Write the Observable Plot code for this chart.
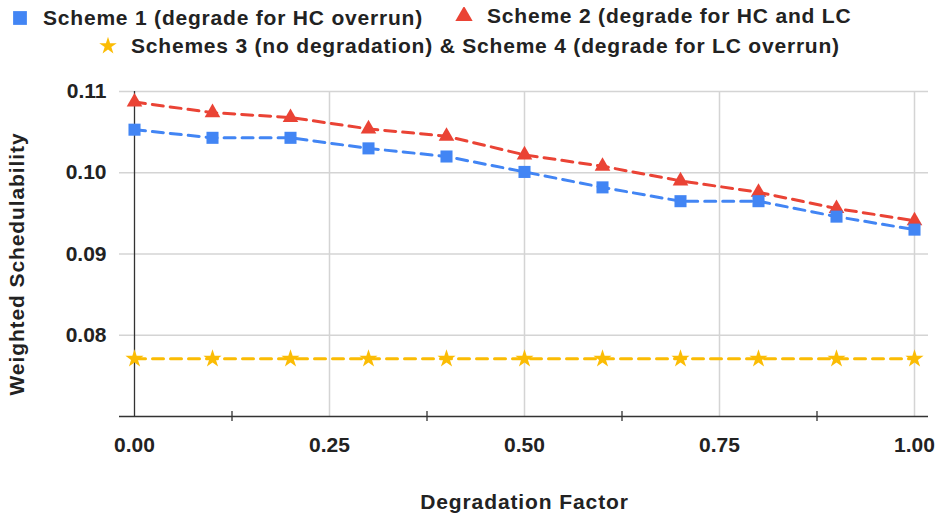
<!DOCTYPE html>
<html>
<head>
<meta charset="utf-8">
<script src="https://cdn.jsdelivr.net/npm/d3@7"></script>
<script src="https://cdn.jsdelivr.net/npm/@observablehq/plot@0.6"></script>
<style>
  html, body { margin: 0; padding: 0; background: #fff; }
  #wrap { position: relative; width: 940px; height: 521px; font-family: "Liberation Sans", Arial, sans-serif; font-weight: bold; color: #222; }
  .item { position: absolute; display: flex; align-items: center; height: 24px; font-size: 21px; white-space: nowrap; letter-spacing: 0.8px; }
  .axis-title { letter-spacing: 0.9px; }
</style>
</head>
<body>
<div id="wrap"><div id="chart"></div></div>
<script>
// ---- data ----
const factors = [0.0, 0.1, 0.2, 0.3, 0.4, 0.5, 0.6, 0.7, 0.8, 0.9, 1.0];
const scheme1 = [0.1053, 0.1043, 0.1043, 0.1030, 0.1020, 0.1001, 0.0982, 0.0965, 0.0965, 0.0946, 0.0930];
const scheme2 = [0.1087, 0.1074, 0.1068, 0.1054, 0.1045, 0.1022, 0.1008, 0.0990, 0.0976, 0.0956, 0.0941];
const scheme34 = [0.0771, 0.0771, 0.0771, 0.0771, 0.0771, 0.0771, 0.0771, 0.0771, 0.0771, 0.0771, 0.0771];
const seriesNames = [
  "Scheme 1 (degrade for HC overrun)",
  "Scheme 2 (degrade for HC and LC",
  "Schemes 3 (no degradation) & Scheme 4 (degrade for LC overrun)"
];
const seriesColors = ["#4285F4", "#EA4335", "#FBBC04"];
const seriesSymbols = ["square", "triangle", "star"];
const xTicks = [0, 0.25, 0.5, 0.75, 1.0];
const xMinorTicks = [0.125, 0.375, 0.625, 0.875];
const xGrid = [0.25, 0.5, 0.75, 1.0];
const yTicks = [0.08, 0.09, 0.10, 0.11];
const xTitle = "Degradation Factor";
const yTitle = "Weighted Schedulability";

const seriesValues = [scheme1, scheme2, scheme34];
const rows = [];
seriesValues.forEach((vals, s) => vals.forEach((v, i) => rows.push({x: factors[i], y: v, s})));
const bySeries = s => rows.filter(r => r.s === s);
const drawOrder = [2, 1, 0];

const marks = [
  Plot.ruleY(yTicks, {stroke: "#d4d4d4", strokeWidth: 1.5, insetLeft: -15, insetRight: -14}),
  Plot.ruleX(xGrid, {stroke: "#d4d4d4", strokeWidth: 1.5}),
  Plot.ruleX([0], {stroke: "#333", strokeWidth: 1.3}),
  Plot.ruleY([0.07], {stroke: "#333", strokeWidth: 1.3, insetLeft: -15, insetRight: -14}),
  Plot.tickX(xMinorTicks, {x: d => d, stroke: "#333", strokeWidth: 1.3, insetTop: 320, insetBottom: -5}),
  Plot.axisX(xTicks, {tickSize: 0, tickPadding: 21, tickFormat: d3.format(".2f"), label: null, fontSize: 21}),
  Plot.axisY(yTicks, {tickSize: 0, tickPadding: 28, tickFormat: d3.format(".2f"), label: null, fontSize: 21}),
];
for (const s of drawOrder) {
  marks.push(Plot.line(bySeries(s), {x: "x", y: "y", stroke: seriesColors[s], strokeWidth: 3, strokeDasharray: "11,7"}));
}
const symR = [6.8, 5.8, 5.7];
for (const s of drawOrder) {
  marks.push(Plot.dot(bySeries(s), {x: "x", y: "y", symbol: seriesSymbols[s], fill: seriesColors[s], r: symR[s], stroke: "none"}));
}
marks.push(Plot.text([xTitle], {text: d => d, frameAnchor: "bottom", dy: 92, fontSize: 21, fontWeight: "bold", textAnchor: "middle", className: "axis-title"}));
marks.push(Plot.text([yTitle], {text: d => d, frameAnchor: "left", textAnchor: "middle", rotate: -90, dx: -117, dy: 10, fontSize: 21, fontWeight: "bold", className: "axis-title"}));

const chart = Plot.plot({
  width: 940,
  height: 521,
  marginTop: 91,
  marginBottom: 105,
  marginLeft: 134,
  marginRight: 26,
  x: {domain: [0, 1]},
  y: {domain: [0.07, 0.11]},
  style: {fontFamily: '"Liberation Sans", Arial, sans-serif', fontSize: "21px", fontWeight: "bold", color: "#222", background: "#fff"},
  marks
});
document.getElementById("chart").appendChild(chart);

// ---- legend (HTML overlay above the plot area) ----
const wrap = document.getElementById("wrap");
const legendPos = [{left: 11, top: 6}, {left: 455, top: 4}, {left: 99, top: 34}];
const iconSvg = (s) => {
  const sym = {square: d3.symbolSquare, triangle: d3.symbolTriangle, star: d3.symbolStar}[seriesSymbols[s]];
  const size = {square: 190, triangle: 130, star: 95}[seriesSymbols[s]];
  const p = d3.symbol(sym, size)();
  return `<svg width="18" height="18" viewBox="-9 -9 18 18" style="margin-right:14px"><path d="${p}" fill="${seriesColors[s]}"/></svg>`;
};
seriesNames.forEach((name, s) => {
  const div = document.createElement("div");
  div.className = "item";
  div.style.left = legendPos[s].left + "px";
  div.style.top = legendPos[s].top + "px";
  div.innerHTML = iconSvg(s) + `<span>${name}</span>`;
  wrap.appendChild(div);
});
</script>
</body>
</html>
